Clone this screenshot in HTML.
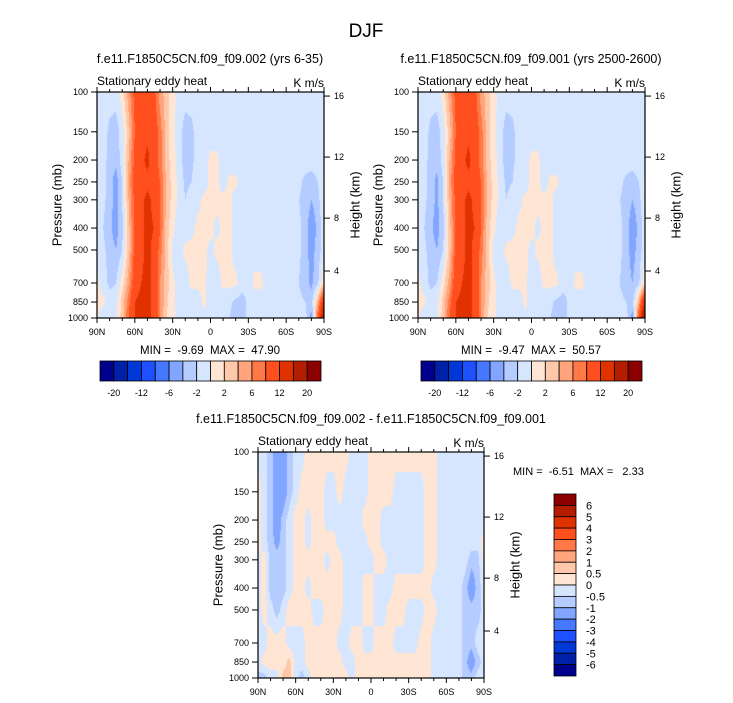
<!DOCTYPE html>
<html><head><meta charset="utf-8"><style>
html,body{margin:0;padding:0;background:#fff;}
#wrap{position:relative;width:733px;height:703px;overflow:hidden;font-family:"Liberation Sans",sans-serif;}
canvas{position:absolute;}
svg{position:absolute;left:0;top:0;}
text{white-space:pre;}
</style></head><body>
<div id="wrap">
<canvas id="cA"></canvas>
<canvas id="cB"></canvas>
<canvas id="cD"></canvas>
<svg id="ov" width="733" height="703"></svg>
</div>
<script>
const lats = [90,85,80,75,70,65,60,55,50,45,40,35,30,25,20,15,10,5,0,-5,-10,-15,-20,-25,-30,-35,-40,-45,-50,-55,-60,-65,-70,-75,-80,-85,-90];
const pres = [1000,850,700,500,400,300,250,200,150,100];
const presTicks = [1000,850,700,500,400,300,250,200,150,100];
const latTickVals = [90,60,30,0,-30,-60,-90];
const latTickLabels = ["90N","60N","30N","0","30S","60S","90S"];
const kmTicks = [16,12,8,4];
const kmFrac = [0.018,0.288,0.558,0.792];
const palette = ["#00008c","#0020a8","#0038d8","#1e50ff","#4678ff","#82a6ff","#b4ccff","#d6e6ff","#ffe6d4","#ffc8aa","#ffa47c","#ff7846","#ff4f1e","#e03200","#b41e00","#8c0000"];
const levelsTop = [-20,-16,-12,-8,-6,-4,-2,0,2,4,6,8,12,16,20];
const levelsDiff = [-6,-5,-4,-3,-2,-1,-0.5,0,0.5,1,2,3,4,5,6];
const levelsDiffLabels = ["-6","-5","-4","-3","-2","-1","-0.5","0","0.5","1","2","3","4","5","6"];
const m=-1;
const fieldA = [
[0.5,-1.5,-1,-0.5,3,8,12,13,13,11,6,2, 0.5,-1,-1,-1,-0.5,-0.5,-1,-1,-1.5,-2,-3,-3,-1.5, m,m,m,m,m,m,m, -1,-1,-5,8,20],
[0.5,0.5,-1,-1,3,7,12,13,13,11,6,2.5, 0.5,-1,-1,-1,-1,0.5,-1,-1,-1,-1.5,-2.5,-3,-1.5, m,m,m,m,m,m,m, -1.5,-2,-3,4,14],
[0.5,-1,-2.5,-2,1,5,10,12,13,11,6,3, 0.5,-1,-1,0.5,0.5,0.5,-1,-1,0.5,0.5,0.5,-1,-1,0.5,0.5, m,m,m,m,m, -2,-3,-4.5,-2.5,2],
[-1,-1.5,-3,-4,-2,3,9,11,13,11,7,3,-0.5,-1,0.5,0.5,0.5,0.5,-0.5,0.5,0.5,0.5,-1, m,m,m,m,m,m,m,m,m, -1.5,-3,-5,-3,-1],
[-2,-2,-3.5,-5,-2.5,3,9,11,13,12,8,3,0.5,-1,-1,-0.5,0.5,0.5,0.5,-0.5,0.5,0.5,-1, m,m,m,m,m,m,m,m,m, -1.5,-3,-5.5,-3.5,-1],
[-1,-1.5,-3,-5,-2,4,9,11,13,11,8,4,1,-0.5,-2,-1,-0.5,0.5,0.5,0.5,0.5,0.5, m,m,m,m,m,m,m,m,m,m, -2,-2.5,-4,-3,0.5],
[-1,-1,-3,-5,-2,5,9,10,11,10,8,4,1,-0.5,-2.5,-2,-0.5,-1,0.5,0.5,-1,0.5,0.5, m,m,m,m,m,m,m,m,m, -1.5,-2.5,-3,-2,0.5],
[-1,-1,-3,-3.5,-1,4,9,11,13,10,7,3,1,-1,-3,-2.5,-1,-1,0.5,0.5, m,m,m,m,m,m,m,m,m,m,m,m,m,m,m,m,m],
[-1,-1,-2.5,-3,-1,3,8,10,11,10,7,3,0.5,-1,-3,-2.5,-1, m,m,m,m,m,m,m,m,m,m,m,m,m,m,m,m,m,m,m,m],
[-1,-1,-1,-1,1,5,9,10,10,9,5,3,1, m,m,m,m,m,m,m,m,m,m,m,m,m,m,m,m,m,m,m,m,m,m,m,m]
];
const fieldB = [
[0.5,-1.5,-1,-0.5,3,8,12,13,13,11,6,2, 0.5,-1,-1,-1,-0.5,-0.5,-1,-1,-1.5,-2,-3,-3,-1.5, m,m,m,m,m,m,m, -1,-1,-5,9,22],
[0.5,0.5,-1,-1,3,7,12,13,13,11,6,2.5, 0.5,-1,-1,-1,-1,0.5,-1,-1,-1,-1.5,-2.5,-3,-1.5, m,m,m,m,m,m,m, -1.5,-2,-3,4,15],
[0.5,-1,-2.5,-2,1,5,10,12,13,11,6,3, 0.5,-1,-1,0.5,0.5,0.5,-1,-1,0.5,0.5,0.5,-1,-1,0.5,0.5, m,m,m,m,m, -2,-3,-4,-2.5,2],
[-1,-1.5,-3,-4,-2,3,9,11,13,11,7,3,-0.5,-1,0.5,0.5,0.5,0.5,-0.5,0.5,0.5,0.5,-1, m,m,m,m,m,m,m,m,m, -1.5,-3,-5,-3,-1],
[-2,-2,-3.5,-5,-2.5,3,9,11,13,12,8,3,0.5,-1,-1,-0.5,0.5,0.5,0.5,-0.5,0.5,0.5,-1, m,m,m,m,m,m,m,m,m, -1.5,-3,-5.5,-3.5,-1],
[-1,-1.5,-3,-4.5,-2,4,9,11,13,11,8,4,1,-0.5,-2,-1,-0.5,0.5,0.5,0.5,0.5,0.5, m,m,m,m,m,m,m,m,m,m, -2,-2.5,-4,-3,0.5],
[-1,-1,-3,-4.5,-2,5,9,10,11,10,8,4,1,-0.5,-2.5,-2,-0.5,-1,0.5,0.5,-1,0.5,0.5, m,m,m,m,m,m,m,m,m, -1.5,-2.5,-3,-2,0.5],
[-1,-1,-3,-3.5,-1,4,9,11,13,10,7,3,1,-1,-3,-2.5,-1,-1,0.5,0.5, m,m,m,m,m,m,m,m,m,m,m,m,m,m,m,m,m],
[-1,-1,-2.5,-3,-1,3,8,10,11,10,7,3,0.5,-1,-3,-2.5,-1, m,m,m,m,m,m,m,m,m,m,m,m,m,m,m,m,m,m,m,m],
[-1,-1,-1,-1,1,5,9,10,10,9,5,3,1, m,m,m,m,m,m,m,m,m,m,m,m,m,m,m,m,m,m,m,m,m,m,m,m]
];
const a=-0.25,p=0.25;
const fieldD = [
[-.75,-.75,a,a,.7,.7,a,-.75,a, p,p,p,p,p,p, a, p,p,p,p,p,p,p,p,p,p,p,p, a,a,a,a,a, -.75,-.75,a,a],
[a,p,p,p,p,.7,a,a, p,p,p,p,p,p, a,a, p,p,p,p,p,p,p,p,p,p,p,p, a,a,a,a,a, -.75,-1.5,-.75,a],
[a,a,p,p,p, a,a,a, p,p,p,p,p, a,a, p,p, a,a, p,p,p, a,a,a,a, p,p, a,a,a,a,a, -.75,-.75,a,a],
[a,p,a,-.75,a, p,p,p,p, a,a, p,p,p, a,a,a, p,p, a,a, p,p,p, a,a,a, p,p, a,a,a,a, -.75,-.75,-.75,a],
[a,p,-.75,-.75,-.75,a, p,p, a, p,p,p,p,p, a,a,a, p,p, a,a,a, p,p,p,p,p,p, a,a,a,a,a, -.75,-1.5,-.75,a],
[a,p,-.75,-.75,-.75,a, p,p,p,p,p, a, p,p, a,a,a,a,a, p,p, a,a,a,a,a,a, p,p, a,a,a,a,a, -.75,-.75,p],
[p,a,-.75,-1.2,-.75,a, p,p, a, p,p,p,p, a,a,a,a,a, p,p, a,a,a,a,a,a,a, p,p, a,a,a,a,a,a,a, p],
[p,a,-.75,-1.5,-.75,a, p,p, a, p,p, a,a,a,a,a,a, p,p,p, a,a,a,a,a,a,a, p,p, a,a,a,a,a,a,a,a],
[p,a,-.75,-1.5,-1.5,-.75,a, p,p,p,p, a,a, p, a,a,a,a, p,p,p,p, a,a,a,a,a, p,p, a,a,a,a,a,a,a,a],
[a,a,-.75,-1.5,-1.5,-.75,a,a, p,p,p,p,p,p,p, a,a,a, p,p,p,p,p,p,p,p,p,p,p, a,a,a,a,a,a,a,a]
];

function colorFor(v, levels){let k=0;while(k<levels.length&&v>=levels[k])k++;return palette[k];}
function hexRGB(h){return [parseInt(h.substr(1,2),16),parseInt(h.substr(3,2),16),parseInt(h.substr(5,2),16)];}
function drawField(id, field, levels, box){
  const c=document.getElementById(id);
  c.width=box.w;c.height=box.h;c.style.left=box.x+'px';c.style.top=box.y+'px';
  const ctx=c.getContext('2d');const img=ctx.createImageData(box.w,box.h);
  const lp=pres.map(v=>Math.log10(v));
  for(let py=0;py<box.h;py++){
    const L=2+(py+0.5)/box.h;
    let j=0;while(j<lp.length-2&&lp[j+1]>L)j++;
    let tj=(lp[j]-L)/(lp[j]-lp[j+1]);tj=Math.max(0,Math.min(1,tj));
    for(let px=0;px<box.w;px++){
      const lat=90-180*(px+0.5)/box.w;
      let fi=(lats[0]-lat)/(lats[0]-lats[1]);let i=Math.min(lats.length-2,Math.max(0,Math.floor(fi)));let ti=Math.max(0,Math.min(1,fi-i));
      const v=(field[j][i]*(1-ti)+field[j][i+1]*ti)*(1-tj)+(field[j+1][i]*(1-ti)+field[j+1][i+1]*ti)*tj;
      const rgb=hexRGB(colorFor(v,levels));const o=(py*box.w+px)*4;
      img.data[o]=rgb[0];img.data[o+1]=rgb[1];img.data[o+2]=rgb[2];img.data[o+3]=255;
    }
  }
  ctx.putImageData(img,0,0);
}
const NS="http://www.w3.org/2000/svg";const ov=document.getElementById('ov');
function el(tag,attrs,parent){const e=document.createElementNS(NS,tag);for(const k in attrs)e.setAttribute(k,attrs[k]);(parent||ov).appendChild(e);return e;}
function txt(s,x,y,size,anchor,name,extra){const t=el('text',Object.assign({x:x,y:y,'font-size':size,'text-anchor':anchor||'start',fill:'#000','font-family':'Liberation Sans, sans-serif'},extra||{}));t.textContent=s;


return t;}
function axes(box,pfx){
  const g=el('g',{});
  
  
  el('rect',{x:box.x,y:box.y,width:box.w,height:box.h,fill:'none',stroke:'#000','stroke-width':1.2},g);
  const xs=v=>box.x+(90-v)/180*box.w;
  const yp=v=>box.y+(Math.log10(v)-2)*box.h;
  for(let v=90;v>=-90;v-=10){const maj=(v%30===0);const L=maj?5:3;
    el('line',{x1:xs(v),x2:xs(v),y1:box.y+box.h,y2:box.y+box.h+L,stroke:'#000'},g);
    el('line',{x1:xs(v),x2:xs(v),y1:box.y,y2:box.y-L,stroke:'#000'},g);}
  latTickVals.forEach((v,k)=>txt(latTickLabels[k],xs(v),box.y+box.h+17,9,'middle',pfx+'-x-tick-label',{}));
  presTicks.forEach(v=>{el('line',{x1:box.x-6,x2:box.x,y1:yp(v),y2:yp(v),stroke:'#000'},g);
    txt(String(v),box.x-9,yp(v)+3,9,'end',pfx+'-y-tick-label');});
  kmTicks.forEach((v,k)=>{const y=box.y+kmFrac[k]*box.h;el('line',{x1:box.x+box.w,x2:box.x+box.w+6,y1:y,y2:y,stroke:'#000'},g);
    txt(String(v),box.x+box.w+10,y+3,9,'start',pfx+'-km-tick-label');});
  const cy=box.y+box.h/2;
  txt('Pressure (mb)',box.x-40,cy,13,'middle',pfx+'-y-axis-title',{transform:`rotate(-90 ${box.x-40} ${cy})`,dy:'0.35em'});
  txt('Height (km)',box.x+box.w+31,cy,13,'middle',pfx+'-right-axis-title',{transform:`rotate(-90 ${box.x+box.w+31} ${cy})`,dy:'0.35em'});
  txt('Stationary eddy heat',box.x,box.y-7,12,'start',pfx+'-subtitle');
  txt('K m/s',box.x+box.w,box.y-5,12,'end',pfx+'-units');
}
function hbar(x,y,w,h,levels,pfx){
  const n=palette.length,bw=w/n;
  palette.forEach((c,k)=>{const r=el('rect',{x:x+k*bw,y:y,width:bw,height:h,fill:c,stroke:'#000','stroke-width':0.8});
    
    });
  levels.forEach((v,k)=>{if(k%2===0)txt(String(v),x+(k+1)*bw,y+h+15,9,'middle',pfx+'-colorbar-label');});
}
function vbar(x,y,w,h,levels,labels){
  const n=palette.length,bh=h/n;
  palette.slice().reverse().forEach((c,k)=>{const r=el('rect',{x:x,y:y+k*bh,width:w,height:bh,fill:c,stroke:'#000','stroke-width':0.8});
    
    });
  for(let k=0;k<levels.length;k++){const idx=levels.length-1-k;txt(labels[idx],x+w+10,y+(k+1)*bh+4,11,'start','diff-colorbar-label');}
}
const boxA={x:97,y:92,w:227,h:226},boxB={x:418,y:92,w:227,h:226},boxD={x:258,y:452,w:226,h:226};
drawField('cA',fieldA,levelsTop,boxA);
drawField('cB',fieldB,levelsTop,boxB);
drawField('cD',fieldD,levelsDiff,boxD);
txt('DJF',366,37,19,'middle','figure-title');
txt('f.e11.F1850C5CN.f09_f09.002 (yrs 6-35)',210,63,12.5,'middle','left-panel-title');
txt('f.e11.F1850C5CN.f09_f09.001 (yrs 2500-2600)',531,63,12.5,'middle','right-panel-title');
txt('f.e11.F1850C5CN.f09_f09.002 - f.e11.F1850C5CN.f09_f09.001',371,423,12.5,'middle','difference-panel-title');
axes(boxA,'left');axes(boxB,'right');axes(boxD,'diff');
txt('MIN =  -9.69  MAX =  47.90',210,354,11.5,'middle','left-min-max');
txt('MIN =  -9.47  MAX =  50.57',531,354,11.5,'middle','right-min-max');
txt('MIN =  -6.51  MAX =   2.33',513,475,11,'start','diff-min-max');
hbar(100,361,221,20,levelsTop,'left');
hbar(421,361,221,20,levelsTop,'right');
vbar(554,494,22,182,levelsDiff,levelsDiffLabels);
</script>
</body></html>
